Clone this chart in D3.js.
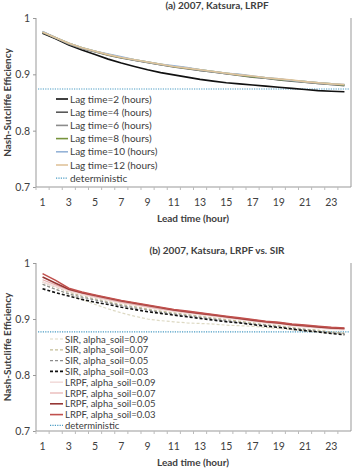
<!DOCTYPE html>
<html>
<head>
<meta charset="utf-8">
<script src="https://cdn.jsdelivr.net/npm/d3@7"></script>
<style>
  body { margin: 0; background: #fff; }
  text { font-family: Lato, "Open Sans", sans-serif; fill: #404040; }
</style>
</head>
<body>
<div id="chart"></div>
<script>
// lead time categories (hours)
const leadTimes = [1, 2, 3, 4, 5, 6, 7, 8, 9, 10, 11, 12, 13, 14, 15, 16, 17, 18, 19, 20, 21, 22, 23, 24];
const xTickLabels = [1, 3, 5, 7, 9, 11, 13, 15, 17, 19, 21, 23];
const yTicks = [0.7, 0.8, 0.9, 1];

// panel (a): LRPF with different lag times
const lag2 = [0.973, 0.963, 0.952, 0.943, 0.935, 0.927, 0.920, 0.914, 0.908, 0.903, 0.899, 0.895, 0.891, 0.888, 0.885, 0.883, 0.881, 0.879, 0.877, 0.875, 0.873, 0.871, 0.870, 0.869];
const lag4 = [0.974, 0.964, 0.954, 0.946, 0.940, 0.934, 0.929, 0.925, 0.921, 0.917, 0.913, 0.910, 0.907, 0.904, 0.901, 0.898, 0.895, 0.893, 0.890, 0.888, 0.886, 0.884, 0.882, 0.880];
const lag6 = [0.975, 0.965, 0.954, 0.946, 0.940, 0.935, 0.930, 0.925, 0.921, 0.917, 0.914, 0.911, 0.907, 0.904, 0.901, 0.899, 0.896, 0.893, 0.891, 0.889, 0.886, 0.884, 0.882, 0.881];
const lag8 = [0.975, 0.965, 0.955, 0.947, 0.941, 0.935, 0.930, 0.926, 0.922, 0.918, 0.914, 0.911, 0.908, 0.905, 0.902, 0.899, 0.896, 0.894, 0.891, 0.889, 0.887, 0.885, 0.883, 0.881];
const lag10 = [0.976, 0.965, 0.955, 0.947, 0.941, 0.936, 0.931, 0.926, 0.922, 0.918, 0.915, 0.912, 0.908, 0.905, 0.902, 0.900, 0.897, 0.894, 0.892, 0.889, 0.887, 0.885, 0.883, 0.882];
const lag12 = [0.975, 0.965, 0.955, 0.947, 0.941, 0.935, 0.930, 0.926, 0.922, 0.918, 0.914, 0.911, 0.908, 0.905, 0.902, 0.899, 0.897, 0.894, 0.892, 0.890, 0.887, 0.885, 0.883, 0.882];
const deterministicA = 0.874;

// panel (b): LRPF vs. SIR
const sir09 = [0.962, 0.953, 0.944, 0.935, 0.926, 0.918, 0.911, 0.905, 0.900, 0.897, 0.895, 0.893, 0.892, 0.891, 0.889, 0.888, 0.887, 0.885, 0.883, 0.881, 0.879, 0.877, 0.875, 0.874];
const sir07 = [0.966, 0.957, 0.948, 0.941, 0.936, 0.931, 0.926, 0.922, 0.918, 0.914, 0.911, 0.908, 0.905, 0.902, 0.899, 0.896, 0.893, 0.890, 0.888, 0.885, 0.882, 0.880, 0.877, 0.875];
const sir05 = [0.962, 0.953, 0.945, 0.939, 0.934, 0.929, 0.924, 0.920, 0.916, 0.912, 0.909, 0.906, 0.903, 0.900, 0.897, 0.894, 0.891, 0.889, 0.886, 0.883, 0.881, 0.878, 0.876, 0.874];
const sir03 = [0.954, 0.947, 0.941, 0.935, 0.930, 0.926, 0.921, 0.917, 0.913, 0.910, 0.907, 0.904, 0.901, 0.898, 0.895, 0.893, 0.890, 0.887, 0.885, 0.882, 0.879, 0.877, 0.874, 0.872];
const lrpf09 = [0.966, 0.958, 0.950, 0.944, 0.939, 0.934, 0.929, 0.925, 0.921, 0.917, 0.914, 0.911, 0.908, 0.905, 0.902, 0.899, 0.896, 0.893, 0.891, 0.888, 0.886, 0.884, 0.882, 0.881];
const lrpf07 = [0.970, 0.961, 0.952, 0.946, 0.940, 0.935, 0.930, 0.926, 0.922, 0.918, 0.915, 0.912, 0.909, 0.906, 0.903, 0.900, 0.897, 0.894, 0.892, 0.889, 0.887, 0.885, 0.883, 0.882];
const lrpf05 = [0.975, 0.964, 0.953, 0.947, 0.942, 0.937, 0.932, 0.928, 0.924, 0.920, 0.916, 0.913, 0.910, 0.907, 0.904, 0.901, 0.898, 0.895, 0.893, 0.890, 0.888, 0.886, 0.884, 0.883];
const lrpf03 = [0.981, 0.969, 0.955, 0.948, 0.943, 0.938, 0.933, 0.929, 0.925, 0.921, 0.917, 0.914, 0.911, 0.908, 0.905, 0.902, 0.899, 0.896, 0.894, 0.891, 0.889, 0.887, 0.885, 0.884];
const deterministicB = 0.877;

const W = 353, H = 471;
const svg = d3.select("#chart").append("svg")
    .attr("width", W)
    .attr("height", H);

function drawPanel(p) {
    const g = svg.append("g");

    const x = d3.scaleBand()
        .domain(leadTimes)
        .range([p.left, p.right]);
    const y = d3.scaleLinear()
        .domain([0.7, 1])
        .range([p.bottom, p.top]);
    const cx = (d) => x(d) + x.bandwidth() / 2;

    // plot border (left, bottom, right)
    g.append("path")
        .attr("d", `M${p.left},${p.top}V${p.bottom}H${p.right}V${p.top}`)
        .attr("fill", "none")
        .attr("stroke", "#999")
        .attr("stroke-width", 1);

    // y axis
    const yAxis = g.append("g")
        .attr("transform", `translate(${p.left},0)`)
        .call(d3.axisLeft(y).tickValues(yTicks).tickFormat(d3.format("~g")).tickSize(3));
    yAxis.select(".domain").remove();
    yAxis.selectAll("line").attr("stroke", "#999");
    yAxis.selectAll("text")
        .attr("x", -6)
        .style("font-size", "10.5px")
        .style("font-family", "Lato, sans-serif")
        .attr("fill", "#404040");

    // x axis: category boundaries as ticks
    g.append("g")
        .selectAll("line")
        .data(leadTimes)
        .enter()
        .append("line")
        .attr("x1", (d) => x(d))
        .attr("x2", (d) => x(d))
        .attr("y1", p.bottom)
        .attr("y2", p.bottom + 3)
        .attr("stroke", "#bbb");

    g.append("g")
        .selectAll("text")
        .data(xTickLabels)
        .enter()
        .append("text")
        .attr("x", cx)
        .attr("y", p.bottom + 19)
        .attr("text-anchor", "middle")
        .style("font-size", "10.5px")
        .text((d) => d);

    // titles
    g.append("text")
        .attr("x", 217)
        .attr("y", p.top - 9)
        .attr("text-anchor", "middle")
        .style("font-size", "10px")
        .style("font-weight", "bold")
        .text(p.title);

    g.append("text")
        .attr("x", 193)
        .attr("y", p.bottom + 35)
        .attr("text-anchor", "middle")
        .style("font-size", "10px")
        .style("font-weight", "bold")
        .text("Lead time (hour)");

    g.append("text")
        .attr("transform", `translate(11,${(p.top + p.bottom) / 2}) rotate(-90)`)
        .attr("text-anchor", "middle")
        .style("font-size", "10px")
        .style("font-weight", "bold")
        .text("Nash-Sutcliffe Efficiency");

    // deterministic reference
    g.append("line")
        .attr("x1", p.left + 2)
        .attr("x2", p.right - 2)
        .attr("y1", y(p.deterministic))
        .attr("y2", y(p.deterministic))
        .attr("stroke", "#4a9cc4")
        .attr("stroke-width", 1.2)
        .attr("stroke-dasharray", "1.2,1.2");

    const line = d3.line()
        .x((d, i) => cx(leadTimes[i]))
        .y((d) => y(d));

    g.append("g")
        .selectAll("path")
        .data(p.series)
        .enter()
        .append("path")
        .attr("d", (s) => line(s.values))
        .attr("fill", "none")
        .attr("stroke", (s) => s.color)
        .attr("stroke-width", (s) => s.width)
        .attr("stroke-dasharray", (s) => s.dash || null);

    // legend
    const items = p.series.concat([{
        name: "deterministic", color: "#4a9cc4", width: 1.2, dash: "1.2,1.2",
    }]);
    const lg = g.append("g");
    items.forEach((s, i) => {
        const ly = p.legend.y + i * p.legend.step;
        lg.append("line")
            .attr("x1", p.legend.x)
            .attr("x2", p.legend.x + p.legend.len)
            .attr("y1", ly)
            .attr("y2", ly)
            .attr("stroke", s.color)
            .attr("stroke-width", s.width)
            .attr("stroke-dasharray", s.dash || null);
        lg.append("text")
            .attr("x", p.legend.x + p.legend.len + 2)
            .attr("y", ly + 3.5)
            .style("font-size", p.legend.font)
            .text(s.name);
    });
}

drawPanel({
    title: "(a) 2007, Katsura, LRPF",
    left: 36, right: 351, top: 18, bottom: 187,
    deterministic: deterministicA,
    legend: {x: 56, y: 99, step: 13.2, len: 12, font: "10px"},
    series: [
        {name: "Lag time=2 (hours)", values: lag2, color: "#111", width: 1.6},
        {name: "Lag time=4 (hours)", values: lag4, color: "#595959", width: 1.6},
        {name: "Lag time=6 (hours)", values: lag6, color: "#8c8c8c", width: 1.6},
        {name: "Lag time=8 (hours)", values: lag8, color: "#77933c", width: 1.6},
        {name: "Lag time=10 (hours)", values: lag10, color: "#95b3d7", width: 1.6},
        {name: "Lag time=12 (hours)", values: lag12, color: "#e0c49c", width: 1.6},
    ],
});

drawPanel({
    title: "(b) 2007, Katsura, LRPF vs. SIR",
    left: 36, right: 351, top: 263, bottom: 431,
    deterministic: deterministicB,
    legend: {x: 50, y: 339, step: 10.8, len: 13, font: "9.5px"},
    series: [
        {name: "SIR, alpha_soil=0.09", values: sir09, color: "#ddd9c3", width: 1.2, dash: "3,2"},
        {name: "SIR, alpha_soil=0.07", values: sir07, color: "#c4bd97", width: 1.2, dash: "3,2"},
        {name: "SIR, alpha_soil=0.05", values: sir05, color: "#8c8c8c", width: 1.2, dash: "3,2"},
        {name: "SIR, alpha_soil=0.03", values: sir03, color: "#111", width: 1.6, dash: "3,2"},
        {name: "LRPF, alpha_soil=0.09", values: lrpf09, color: "#f2dcdb", width: 1.6},
        {name: "LRPF, alpha_soil=0.07", values: lrpf07, color: "#e6b0ae", width: 1.2},
        {name: "LRPF, alpha_soil=0.05", values: lrpf05, color: "#953735", width: 1.6},
        {name: "LRPF, alpha_soil=0.03", values: lrpf03, color: "#c0504d", width: 1.6},
    ],
});
</script>
</body>
</html>
